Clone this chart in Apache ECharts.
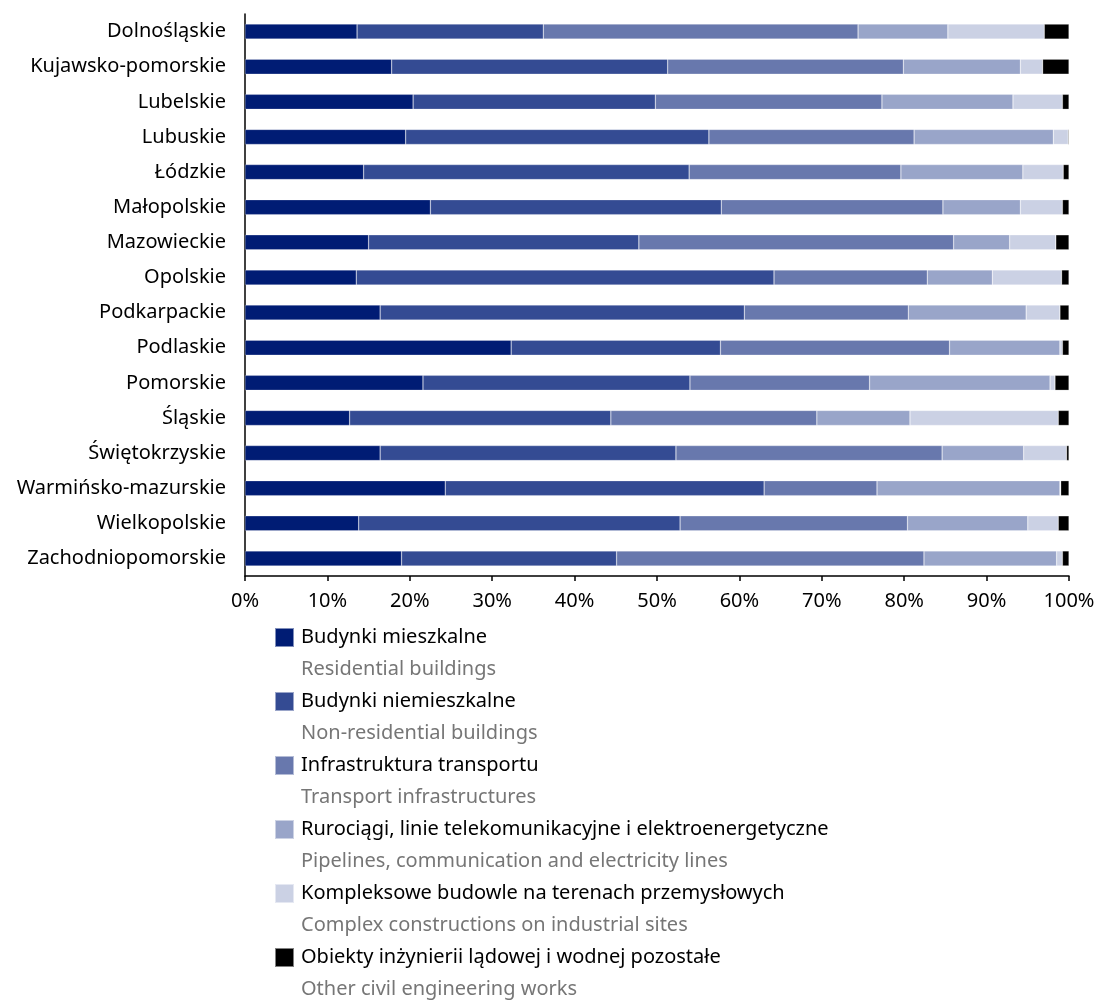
<!DOCTYPE html>
<html>
<head>
<meta charset="utf-8">
<script src="https://cdn.jsdelivr.net/npm/echarts@6/dist/echarts.min.js"></script>
<style>
body{margin:0;background:#fff;}
#chart{width:1096px;height:1000px;}
</style>
</head>
<body>
<div id="chart"></div>
<script>
var regions = ['Dolnośląskie','Kujawsko-pomorskie','Lubelskie','Lubuskie','Łódzkie','Małopolskie','Mazowieckie','Opolskie','Podkarpackie','Podlaskie','Pomorskie','Śląskie','Świętokrzyskie','Warmińsko-mazurskie','Wielkopolskie','Zachodniopomorskie'];

var namesPl = ['Budynki mieszkalne','Budynki niemieszkalne','Infrastruktura transportu','Rurociągi, linie telekomunikacyjne i elektroenergetyczne','Kompleksowe budowle na terenach przemysłowych','Obiekty inżynierii lądowej i wodnej pozostałe'];
var namesEn = ['Residential buildings','Non-residential buildings','Transport infrastructures','Pipelines, communication and electricity lines','Complex constructions on industrial sites','Other civil engineering works'];

var residential    = [13.6,17.8,20.4,19.5,14.4,22.5,15.0,13.5,16.4,32.3,21.6,12.7,16.4,24.3,13.8,19.0];
var nonResidential = [22.6,33.5,29.4,36.8,39.5,35.3,32.8,50.7,44.2,25.4,32.4,31.7,35.9,38.7,39.0,26.1];
var transport      = [38.2,28.6,27.5,24.9,25.7,26.9,38.2,18.6,19.9,27.8,21.8,25.0,32.3,13.7,27.6,37.3];
var pipelines      = [10.9,14.2,15.9,16.9,14.8,9.4,6.8,7.9,14.3,13.4,21.9,11.3,9.9,22.2,14.6,16.1];
var industrial     = [11.7,2.7,6.0,1.8,4.9,5.1,5.6,8.4,4.1,0.3,0.6,18.0,5.2,0.1,3.7,0.7];
var otherWorks     = [3.0,3.2,0.8,0.1,0.7,0.8,1.6,0.9,1.1,0.8,1.7,1.3,0.3,1.0,1.3,0.8];

var xTicks = [0,10,20,30,40,50,60,70,80,90,100];

var colors = ['#001c74','#344b93','#6878ad','#99a5c9','#cbd1e4','#000000'];
var allData = [residential,nonResidential,transport,pipelines,industrial,otherWorks];

var font = 'Noto Sans';

var series = [];
for(var i=0;i<namesPl.length;i++){
	series.push({
		name:namesPl[i],
		type:'bar',
		stack:'total',
		barWidth:15,
		itemStyle:{color:colors[i],borderColor:'rgba(255,255,255,0.5)',borderWidth:0.5},
		data:allData[i]
	});
}

// english lines under each legend entry
var graphics = [];
for(var j=0;j<namesEn.length;j++){
	graphics.push({
		type:'text',
		left:301,
		top:659+j*64,
		style:{text:namesEn[j],fill:'#767676',font:'20px "'+font+'"'}
	});
}

var myChart = echarts.init(document.getElementById('chart'));
myChart.setOption({
	animation:false,
	textStyle:{fontFamily:font},
	grid:{left:245,right:27,top:14,height:562,outerBoundsMode:'none'},
	xAxis:{
		type:'value',
		min:xTicks[0],
		max:xTicks[xTicks.length-1],
		interval:10,
		axisLine:{show:true,lineStyle:{color:'#000',width:1.5}},
		axisTick:{show:true,length:5,lineStyle:{color:'#000',width:1.5}},
		splitLine:{show:false},
		axisLabel:{formatter:'{value}%',color:'#000',fontSize:20,margin:15}
	},
	yAxis:{
		type:'category',
		inverse:true,
		data:regions,
		axisLine:{lineStyle:{color:'#000',width:1.5}},
		axisTick:{length:5,lineStyle:{color:'#000',width:1.5}},
		axisLabel:{color:'#000',fontSize:20,margin:19}
	},
	legend:{
		orient:'vertical',
		left:274,
		top:627,
		padding:0,
		itemWidth:19,
		itemHeight:19,
		itemGap:43,
		icon:'rect',
		textStyle:{color:'#000',fontSize:20,lineHeight:20,padding:[0,0,0,2]},
		data:namesPl
	},
	graphic:graphics,
	series:series
});
</script>
</body>
</html>
